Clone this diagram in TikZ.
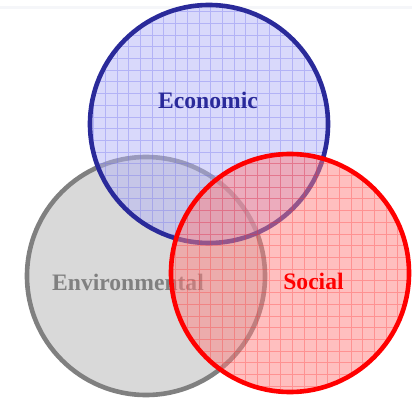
\documentclass[tikz,border=0pt]{standalone}
\usepackage{fontspec}
\setmainfont{Liberation Serif}
\usepackage{xcolor}
\definecolor{econblue}{RGB}{42,42,154}
\definecolor{econfill}{RGB}{180,180,248}
\definecolor{econgrid}{RGB}{110,110,235}
\definecolor{socred}{RGB}{255,0,0}
\definecolor{socfill}{RGB}{255,128,128}
\definecolor{socgrid}{RGB}{255,40,40}
\definecolor{envgray}{RGB}{128,128,128}
\definecolor{envfill}{RGB}{217,217,217}
\definecolor{topline}{RGB}{245,246,249}

\begin{document}
\begin{tikzpicture}[x=1pt,y=-1pt,
		vtext/.style={font=\fontsize{23.6}{28}\selectfont\bfseries, anchor=base, inner sep=0pt},
		ring/.style={line width=4.6pt},
		fine/.style={line width=0.8pt, step=11.7pt}]
			\def\rad{119};
			\useasboundingbox (0,0) rectangle (412,398);
			\fill[topline] (0,6) rectangle (412,9);
			\fill[envfill] (146,276) circle (\rad);
			\draw[ring, envgray] (146,276) circle (\rad);
			\node[vtext, envgray] (env) at (128,290) {Environmental};
			\begin{scope}
			\fill[econfill, fill opacity=0.5] (209,124) circle (\rad);
			\clip (209,124) circle (\rad);
			\draw[fine, econgrid, opacity=0.35] (80,250) grid (340,0);
			\end{scope}
			\draw[ring, econblue] (209,124) circle (\rad);
			\node[vtext, econblue] (econ) at (208,109) {Economic};
			\begin{scope}
			\fill[socfill, fill opacity=0.5] (290,273) circle (\rad);
			\clip (290,273) circle (\rad);
			\draw[fine, socgrid, opacity=0.3] (160,400) grid (412,150);
			\end{scope}
			\draw[ring, socred] (290,273) circle (\rad);
			\node[vtext, socred] (soc) at (313.5,289) {Social};
\end{tikzpicture}
\end{document}
